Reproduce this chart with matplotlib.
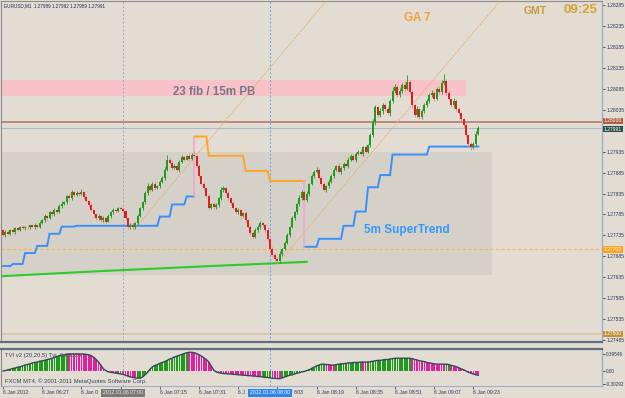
import numpy as np
import matplotlib
matplotlib.use('Agg')
import matplotlib.pyplot as plt
from matplotlib.transforms import blended_transform_factory as btf, offset_copy

plt.rcParams['font.family'] = ['Liberation Sans', 'DejaVu Sans']

# ---------------- data ----------------
# EURUSD M1 closes, price x 100000, bars 06:11 .. 09:25
CLOSE_POINTS = [
    127737, 127744, 127739, 127749, 127744, 127752, 127749, 127754, 127752, 127756,
    127754, 127759, 127756, 127761, 127756, 127764, 127771, 127781, 127776, 127790,
    127785, 127795, 127790, 127805, 127810, 127814, 127829, 127824, 127839, 127831,
    127836, 127834, 127839, 127827, 127817, 127807, 127795, 127785, 127776, 127781,
    127771, 127776, 127768, 127781, 127790, 127795, 127793, 127800, 127798, 127793,
    127776, 127756, 127761, 127754, 127764, 127781, 127800, 127814, 127836, 127853,
    127843, 127858, 127848, 127853, 127863, 127872, 127892, 127916, 127909, 127896,
    127901, 127892, 127911, 127921, 127916, 127925, 127918, 127928, 127925, 127901,
    127877, 127858, 127848, 127829, 127800, 127810, 127802, 127807, 127824, 127843,
    127848, 127836, 127824, 127812, 127800, 127790, 127795, 127781, 127788, 127771,
    127756, 127742, 127732, 127747, 127756, 127764, 127759, 127747, 127727, 127703,
    127689, 127679, 127674, 127691, 127703, 127718, 127737, 127756, 127776, 127790,
    127810, 127824, 127839, 127819, 127834, 127858, 127877, 127887, 127892, 127872,
    127858, 127843, 127853, 127863, 127877, 127892, 127901, 127887, 127896, 127906,
    127901, 127916, 127925, 127916, 127930, 127935, 127930, 127945, 127935, 127950,
    127974, 128005, 128041, 128022, 128032, 128046, 128037, 128027, 128056, 128080,
    128090, 128070, 128080, 128094, 128085, 128102, 128077, 128046, 128022, 128037,
    128017, 128032, 128046, 128056, 128070, 128075, 128061, 128085, 128077, 128099,
    128104, 128075, 128061, 128046, 128056, 128037, 128027, 128012, 127998, 127974,
    127954, 127945, 127954, 127978, 127991,
]
FIRST_OPEN_POINTS = 127747
UPPER_WICK = [
    4, 3, 5, 2, 3, 4, 2, 3, 5, 2,  3, 2, 4, 3, 2, 5, 3, 6, 2, 4,
    3, 5, 2, 4, 6, 3, 2, 8, 4, 3,  5, 2, 7, 3, 4, 2, 5, 3, 2, 4,
    3, 5, 2, 4, 3, 6, 2, 3, 5, 4,  3, 2, 4, 5, 3, 6, 4, 3, 5, 8,
    3, 4, 6, 2, 5, 4, 7, 10, 3, 5, 4, 6, 3, 5, 4, 3, 6, 4, 8, 3,
    4, 2, 5, 3, 6, 2, 4, 5, 3, 7,  4, 3, 5, 2, 4, 3, 6, 4, 2, 5,
    3, 4, 2, 5, 3, 6, 4, 3, 5, 2,  4, 3, 5, 6, 3, 4, 5, 2, 6, 4,
    3, 7, 5, 4, 6, 3, 5, 4, 6, 3,  5, 4, 3, 6, 4, 5, 3, 6, 4, 5,
    3, 6, 4, 5, 3, 4, 6, 3, 5, 4,  6, 8, 5, 4, 7, 5, 4, 6, 5, 8,
    6, 4, 7, 5, 8, 15, 4, 5, 3, 6, 4, 5, 6, 4, 5, 7, 4, 5, 6, 8,
    15, 4, 5, 3, 6, 4, 5, 3, 4, 5, 4, 3, 5, 6, 4,
]
LOWER_WICK = [
    4, 5, 3, 4, 2, 5, 3, 4, 2, 3,  4, 3, 2, 5, 3, 4, 2, 3, 5, 2,
    4, 3, 5, 2, 4, 3, 5, 2, 4, 3,  3, 4, 2, 5, 3, 4, 2, 5, 3, 4,
    5, 3, 4, 2, 5, 3, 4, 2, 3, 5,  4, 6, 5, 4, 3, 5, 2, 4, 3, 5,
    4, 3, 5, 2, 4, 3, 5, 4, 3, 6,  3, 4, 5, 3, 4, 2, 5, 3, 4, 6,
    5, 4, 6, 5, 4, 3, 5, 4, 3, 5,  4, 3, 5, 4, 3, 5, 4, 6, 3, 5,
    4, 5, 6, 4, 3, 5, 4, 6, 5, 4,  5, 4, 7, 4, 5, 3, 4, 5, 3, 4,
    3, 5, 4, 3, 5, 4, 3, 5, 4, 3,  4, 3, 5, 4, 3, 5, 4, 3, 5, 4,
    3, 5, 4, 3, 5, 4, 3, 5, 4, 3,  5, 4, 6, 5, 4, 8, 5, 4, 6, 5,
    4, 5, 4, 6, 5, 4, 5, 6, 5, 4,  5, 4, 6, 5, 4, 5, 6, 4, 5, 4,
    5, 6, 4, 5, 6, 4, 5, 6, 5, 4,  5, 6, 4, 5, 4,
]

# SuperTrend step runs: (first bar, last bar, level)
ST_UP_RUNS_1 = [(0, 3, 1.27662), (4, 8, 1.27667), (9, 13, 1.27693), (14, 18, 1.27710),
                (19, 23, 1.27739), (24, 29, 1.27756), (30, 63, 1.27758), (64, 68, 1.27780),
                (69, 74, 1.27809), (75, 78, 1.27828)]
ST_DOWN_RUNS = [(78, 83, 1.27971), (84, 98, 1.27925), (99, 108, 1.27889), (109, 123, 1.27865)]
ST_UP_RUNS_2 = [(123, 128, 1.27708), (129, 138, 1.27727), (139, 143, 1.27758), (144, 148, 1.27792),
                (149, 153, 1.27850), (154, 158, 1.27879), (159, 173, 1.27928), (174, 194, 1.27947)]

GREEN_MA_BARS = [0, 40, 85, 124]
GREEN_MA_VALUES = [1.27638, 1.27650, 1.27662, 1.27672]

TREND1_BARS, TREND1_PRICES = [53, 133], [1.27746, 1.28302]
TREND2_BARS, TREND2_PRICES = [113, 203], [1.27674, 1.28295]

FIB_ZONE_LOW, FIB_ZONE_HIGH, FIB_ZONE_END = 1.28068, 1.28106, 189
BOX_LOW, BOX_HIGH, BOX_END = 1.27640, 1.27935, 199.6

LEVEL_RED = 1.28006
LEVEL_BID = 1.27991
LEVEL_ORANGE = 1.27702
LEVEL_TAN = 1.27500

VLINE_0700, VLINE_0800 = 49, 109

# price scale labels (1.27985 is hidden behind the bid box in the picture)
PRICE_TICKS = [1.28285, 1.28235, 1.28185, 1.28135, 1.28085, 1.28035, 1.27935,
               1.27885, 1.27835, 1.27785, 1.27735, 1.27685, 1.27635, 1.27585, 1.27535, 1.27485]

# time labels; the parts hidden behind the two cursor boxes are left out, as in the picture
TIME_TICK_BARS = [0, 16, 32, 48, 64, 80, 96, 112, 128, 144, 160, 176, 192]
TIME_TICK_LABELS = ['6 Jan 2012', '6 Jan 06:27', '6 Jan 0', '', '6 Jan 07:15',
                    '6 Jan 07:31', '6 J', '', '6 Jan 08:19', '6 Jan 08:35',
                    '6 Jan 08:51', '6 Jan 09:07', '6 Jan 09:23']
TAIL_LABEL_BAR, TAIL_LABEL = 118.5, '8:03'

TVI = [
    0.00, 0.01, 0.03, 0.04, 0.06, 0.07, 0.09, 0.10, 0.12, 0.14,
    0.15, 0.17, 0.19, 0.20, 0.21, 0.23, 0.24, 0.25, 0.27, 0.28,
    0.30, 0.32, 0.34, 0.36, 0.37, 0.38, 0.39, 0.40, 0.40, 0.40,
    0.40, 0.40, 0.40, 0.40, 0.39, 0.38, 0.36, 0.32, 0.27, 0.21,
    0.13, 0.05, 0.01, -0.02, -0.03, -0.04, -0.05, -0.06, -0.07, -0.08,
    -0.10, -0.12, -0.14, -0.15, -0.16, -0.17, -0.17, -0.14, -0.09, -0.03,
    0.04, 0.10, 0.13, 0.15, 0.18, 0.20, 0.22, 0.25, 0.28, 0.30,
    0.33, 0.35, 0.37, 0.39, 0.41, 0.43, 0.44, 0.44, 0.43, 0.41,
    0.38, 0.35, 0.31, 0.27, 0.21, 0.12, 0.02, -0.02, -0.04, -0.05,
    -0.06, -0.06, -0.07, -0.07, -0.08, -0.08, -0.09, -0.09, -0.10, -0.10,
    -0.11, -0.11, -0.12, -0.12, -0.13, -0.13, -0.14, -0.15, -0.15, -0.16,
    -0.17, -0.17, -0.18, -0.18, -0.16, -0.14, -0.12, -0.10, -0.09, -0.07,
    -0.05, -0.04, -0.02, -0.01, 0.01, 0.03, 0.06, 0.09, 0.12, 0.14,
    0.16, 0.16, 0.15, 0.15, 0.14, 0.14, 0.15, 0.16, 0.17, 0.17,
    0.18, 0.19, 0.19, 0.20, 0.20, 0.20, 0.21, 0.21, 0.21, 0.21,
    0.22, 0.23, 0.24, 0.25, 0.25, 0.26, 0.27, 0.27, 0.28, 0.29,
    0.30, 0.30, 0.30, 0.30, 0.30, 0.30, 0.30, 0.29, 0.27, 0.26,
    0.24, 0.23, 0.22, 0.20, 0.19, 0.18, 0.17, 0.16, 0.16, 0.16,
    0.16, 0.16, 0.15, 0.13, 0.12, 0.10, 0.08, 0.05, 0.03, 0.00,
    -0.03, -0.05, -0.07, -0.09, -0.10,
]
TVI_COLOR_RUNS = [('g', 27), ('m', 20), ('g', 2), ('m', 6), ('g', 21), ('m', 30), ('g', 4),
                  ('m', 4), ('g', 18), ('m', 4), ('g', 11), ('m', 2), ('g', 18), ('m', 14),
                  ('g', 2), ('m', 12)]
TVI_TICKS = [0.39546, 0.0, -0.30292]
TVI_TICK_LABELS = ['0.39546', '0.00', '-0.30292']

# ---------------- figure ----------------
W, H = 625, 398
BG = '#e2dcd3'
fig = plt.figure(figsize=(W / 100, H / 100), dpi=100, facecolor=BG)
ax = fig.add_axes([1 / W, 1 - 342 / H, 601 / W, 341 / H], facecolor=BG)
ax2 = fig.add_axes([1 / W, 1 - 386 / H, 601 / W, 37 / H], facecolor=BG)
XL = (-0.82, 244.5)

# zones
ax.fill_between([-5, FIB_ZONE_END], FIB_ZONE_LOW, FIB_ZONE_HIGH, color='#f7c3c8', lw=0, zorder=1)
ax.fill_between([-5, BOX_END], BOX_LOW, BOX_HIGH, color='#d5d1c9', lw=0, zorder=1)

# horizontal levels
ax.axhline(LEVEL_TAN, color='#d9c6ad', lw=1.2, zorder=2)
ax.axhline(LEVEL_ORANGE, color='#ffb444', lw=0.8, ls=(0, (3, 2)), zorder=2)
ax.axhline(LEVEL_RED, color='#b67a6a', lw=1.2, zorder=2)
ax.axhline(LEVEL_BID, color='#a9bccf', lw=0.8, zorder=2)

# vertical lines
for a in (ax, ax2):
    a.axvline(VLINE_0700, color='#9aa6c4', lw=0.7, ls=(0, (2, 2)), zorder=2)
    a.axvline(VLINE_0800, color='#5aa2f2', lw=0.7, ls=(0, (2, 2)), zorder=2)

# trend channel lines
ax.plot(TREND1_BARS, TREND1_PRICES, color='#e6b27a', lw=0.7, ls=(0, (2, 1)), zorder=3)
ax.plot(TREND2_BARS, TREND2_PRICES, color='#e6b27a', lw=0.7, ls=(0, (2, 1)), zorder=3)

# green moving average
ax.plot(GREEN_MA_BARS, GREEN_MA_VALUES, color='#2ccc2c', lw=1.5, zorder=3)

# supertrend
def expand(runs):
    xs, ys = [], []
    for a_, b_, v in runs:
        for i in range(a_, b_ + 1):
            xs.append(i)
            ys.append(v)
    return xs, ys

for runs, col in ((ST_UP_RUNS_1, '#3a8ff8'), (ST_DOWN_RUNS, '#ffa428'), (ST_UP_RUNS_2, '#3a8ff8')):
    xs, ys = expand(runs)
    ax.plot(xs, ys, color=col, lw=1.4, zorder=3, solid_joinstyle='miter')
ax.plot([ST_UP_RUNS_1[-1][1], ST_DOWN_RUNS[0][0]], [ST_UP_RUNS_1[-1][2], ST_DOWN_RUNS[0][2]],
        color='#eea6d2', lw=1.2, zorder=3)
ax.plot([ST_DOWN_RUNS[-1][1], ST_UP_RUNS_2[0][0]], [ST_DOWN_RUNS[-1][2], ST_UP_RUNS_2[0][2]],
        color='#eea6d2', lw=1.2, zorder=3)

# candles
close = np.array(CLOSE_POINTS) / 1e5
open_ = np.concatenate([[FIRST_OPEN_POINTS / 1e5], close[:-1]])
high = np.maximum(open_, close) + np.array(UPPER_WICK) / 1e5
low = np.minimum(open_, close) - np.array(LOWER_WICK) / 1e5
x = np.arange(len(close))
up = close >= open_
ax.vlines(x[up], low[up], high[up], color='#3f9f3f', lw=0.7, zorder=4)
ax.vlines(x[~up], low[~up], high[~up], color='#e5909e', lw=0.7, zorder=4)
bot = np.minimum(open_, close)
hgt = np.maximum(np.abs(close - open_), 0.000012)
ax.bar(x[up], hgt[up], bottom=bot[up], width=0.82, color='#1c9e1c', lw=0, zorder=5)
ax.bar(x[~up], hgt[~up], bottom=bot[~up], width=0.82, color='#dc1f1f', lw=0, zorder=5)

# annotations
ax.text(86, 1.28077, '23 fib / 15m PB', fontsize=8.3, fontweight='bold', color='#7a7588',
        ha='center', va='center', zorder=6)
ax.text(165, 1.27749, '5m SuperTrend', fontsize=8.5, fontweight='bold', color='#3399ff',
        ha='center', va='center', zorder=6)
fig.text(404 / W, 1 - 18 / H, 'GA 7', fontsize=8.3, fontweight='bold', color='#f0a332',
         ha='left', va='center')
fig.text(524 / W, 1 - 10.5 / H, 'GMT', fontsize=7.5, fontweight='bold', color='#c99c34',
         ha='left', va='center')
fig.text(563 / W, 1 - 10 / H, '09:25', fontsize=9.5, fontweight='bold', color='#d2a232',
         ha='left', va='center')
fig.text(4 / W, 1 - 6 / H, 'EURUSD,M1  1.27989 1.27992 1.27989 1.27991', fontsize=3.3,
         color='#1c2c50', ha='left', va='center')

# price axis
ax.set_xlim(*XL)
ax.set_ylim(1.274808, 1.282943)
ax.set_xticks([])
ax.yaxis.tick_right()
ax.set_yticks(PRICE_TICKS)
ax.set_yticklabels([f'{p:.5f}' for p in PRICE_TICKS])
ax.tick_params(axis='y', length=2, width=0.6, pad=1, labelsize=3.6, colors='#2a3a5a')

bt = btf(ax.transAxes, ax.transData)
# (level, box colour, vertical nudge in points so the stacked boxes just touch)
for lvl, fc, dy in ((LEVEL_RED, '#b15c44', 0.75), (LEVEL_BID, '#2f4f4f', -0.75),
                    (LEVEL_ORANGE, '#ffa31a', 0.0), (LEVEL_TAN, '#c29434', 0.0)):
    tr = offset_copy(bt, fig=fig, x=0, y=dy, units='points')
    ax.text(1.003, lvl, f'{lvl:.5f}', transform=tr, ha='left', va='center', fontsize=3.6,
            color='white', zorder=20, clip_on=False,
            bbox=dict(boxstyle='square,pad=0.15', fc=fc, ec='none'))

# spines
for a in (ax, ax2):
    a.spines['left'].set_color('#8c8c8c')
    a.spines['right'].set_color('#9db0c8')
    a.spines['right'].set_linewidth(1.0)
ax.spines['top'].set_color('#8c8c8c')
ax.spines['bottom'].set_color('#62707e')
ax.spines['bottom'].set_linewidth(1.6)
ax2.spines['top'].set_color('#62707e')
ax2.spines['top'].set_linewidth(1.6)
ax2.spines['bottom'].set_color('#9db0c8')

# TVI indicator
tvi = np.array(TVI)
ccodes = ''.join(c * n for c, n in TVI_COLOR_RUNS)
cols = ['#1f9a1f' if c == 'g' else '#e0219c' for c in ccodes]
ax2.text(0.007, 0.82, 'TVI v2 (20,20,5) Tvi  0.08035', transform=ax2.transAxes, fontsize=4.2,
         color='#34445e', ha='left', va='center', zorder=1)
ax2.text(0.007, 0.13, 'FXCM MT4, \u00a9 2001-2011 MetaQuotes Software Corp.', transform=ax2.transAxes,
         fontsize=4.2, color='#34445e', ha='left', va='center', zorder=1)
ax2.bar(x, tvi, width=0.72, color=cols, lw=0, zorder=3)
ax2.plot(x, tvi, color='#34485a', lw=1.0, zorder=4)
ax2.set_xlim(*XL)
ax2.set_ylim(-0.3525, 0.517)
ax2.yaxis.tick_right()
ax2.set_yticks(TVI_TICKS)
ax2.set_yticklabels(TVI_TICK_LABELS)
ax2.tick_params(axis='y', length=2, width=0.6, pad=1, labelsize=3.4, colors='#2a3a5a')
ax2.set_xticks(TIME_TICK_BARS)
ax2.set_xticklabels(TIME_TICK_LABELS)
ax2.tick_params(axis='x', length=2, width=0.5, pad=1.2, labelsize=3.7, colors='#2a3a5a')
for lab in ax2.get_xticklabels():
    lab.set_ha('left')

bx = btf(ax2.transData, fig.transFigure)
ax2.text(VLINE_0700, 1 - 393 / H, '2012.01.06 07:00', transform=bx, ha='center', va='center',
         fontsize=3.7, color='#e8e8e8', zorder=30, clip_on=False,
         bbox=dict(boxstyle='square,pad=0.35', fc='#7a7a7a', ec='none'))
ax2.text(VLINE_0800, 1 - 393 / H, '2012.01.06 08:00', transform=bx, ha='center', va='center',
         fontsize=3.7, color='white', zorder=30, clip_on=False,
         bbox=dict(boxstyle='square,pad=0.35', fc='#2f86e6', ec='none'))
ax2.text(TAIL_LABEL_BAR, 1 - 392.5 / H, TAIL_LABEL, transform=bx, ha='left', va='center',
         fontsize=3.7, color='#2a3a5a', clip_on=False)

fig.savefig('out.png', dpi=100, facecolor=BG)
